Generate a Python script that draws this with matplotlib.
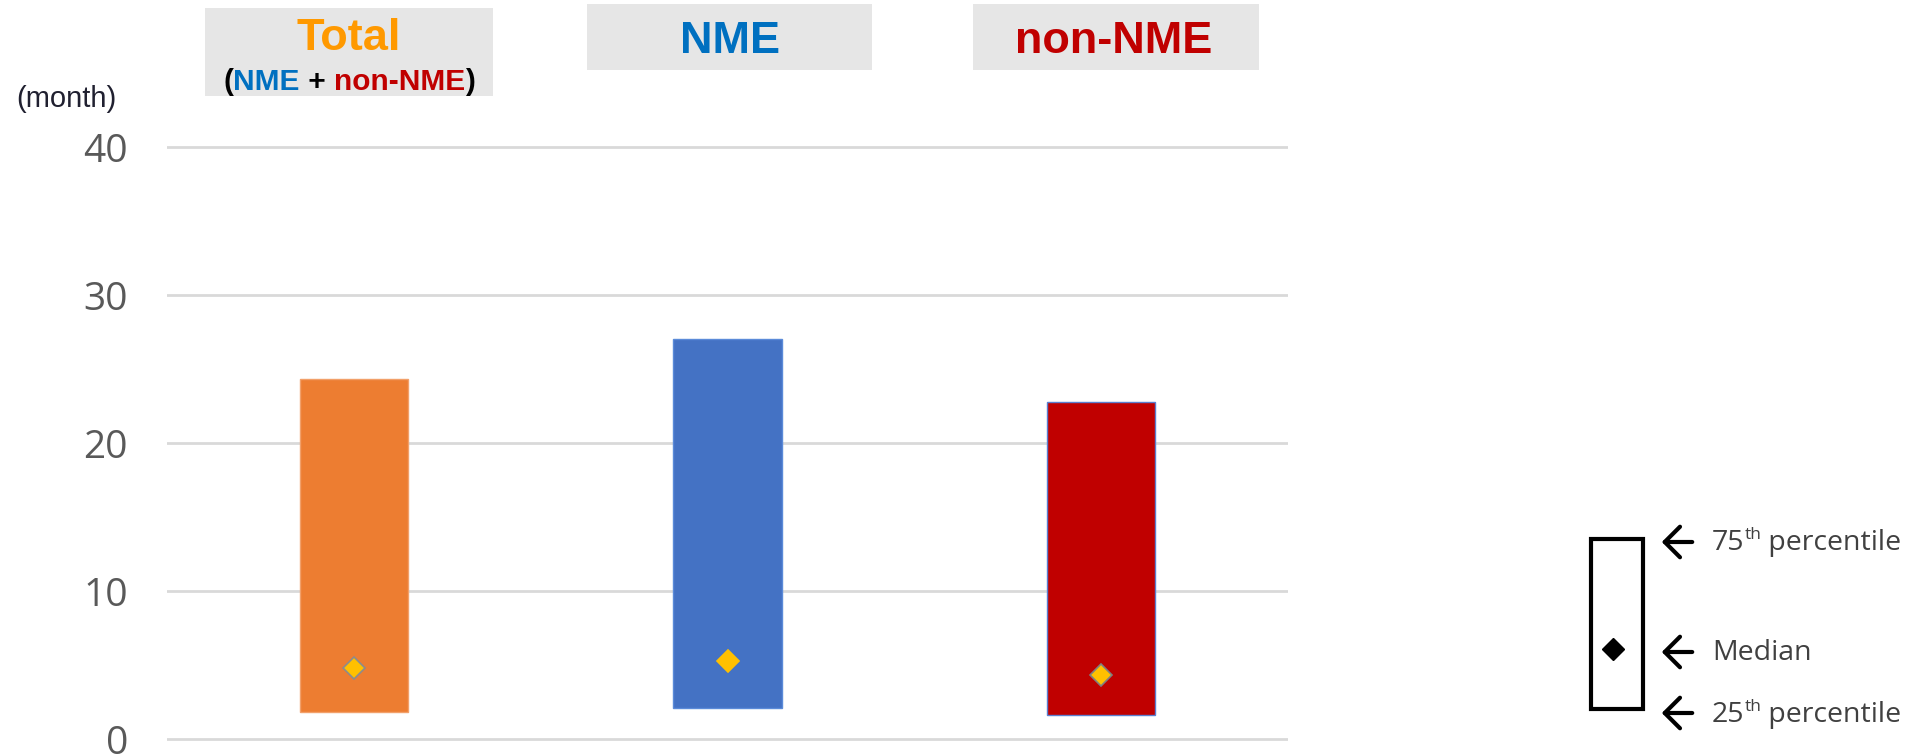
import matplotlib
matplotlib.use('Agg')
import matplotlib.pyplot as plt
from matplotlib.patches import Rectangle, FancyArrowPatch
from matplotlib.lines import Line2D

# ---- data ----
categories = ['Total', 'NME', 'non-NME']
p25 = [1.8, 2.1, 1.6]
p75 = [24.3, 27.0, 22.8]
median = [4.8, 5.3, 4.3]
yticks = [0, 10, 20, 30, 40]
ytick_labels = ['0', '10', '20', '30', '40']
unit_label = '(month)'
legend_labels = ['75', 'Median', '25']

W, H = 1911, 756
fig = plt.figure(figsize=(W / 100, H / 100), dpi=100)


def px(xp, yp):
    return (xp / W, 1 - yp / H)


# axes: value 0 at y=739 px, 40 at y=147 px ; ylim padded by 0.2
ppu = (739 - 147) / 40.0
pad = 0.2 * ppu
ax = fig.add_axes([167 / W, 1 - (739 + pad) / H, 1121 / W, (739 - 147 + 2 * pad) / H])
ax.set_xlim(-0.5, 2.5)
ax.set_ylim(-0.2, 40.2)

xs = list(range(len(categories)))
heights = [b - a for a, b in zip(p25, p75)]
bar_colors = ['#ED7D31', '#4472C4', '#C00000']
edge_colors = ['#F2A06A', '#5B8BD9', '#5B7FD0']
ax.bar(xs, heights, bottom=p25, width=0.29, color=bar_colors,
       edgecolor=edge_colors, linewidth=1.0, zorder=3)
med_edges = ['#8C8C8C', '#FFC000', '#7F7F7F']
for xi, m, ec in zip(xs, median, med_edges):
    ax.plot([xi], [m], marker='D', markersize=11.5, markerfacecolor='#FFC000',
            markeredgecolor=ec, markeredgewidth=1.2, linestyle='none', zorder=4)

ax.set_yticks(yticks)
ax.set_yticklabels(ytick_labels, fontfamily='Open Sans')
ax.set_xticks([])
ax.grid(axis='y', color='#D9D9D9', linewidth=2, zorder=0)
ax.set_axisbelow(True)
for s in ax.spines.values():
    s.set_visible(False)
ax.tick_params(axis='y', length=0, pad=28, labelsize=28, labelcolor='#595959')

renderer = fig.canvas.get_renderer()


def rich(xpos, ybase, pieces, ha='center', family='Liberation Sans'):
    """pieces: list of (text, color, size, weight, dy_px)"""
    texts = []
    for s, c, size, weight, dy in pieces:
        t = fig.text(0, 0, s, color=c, fontsize=size, fontweight=weight,
                     family=family, va='baseline', ha='left', zorder=6)
        texts.append(t)
    widths = [t.get_window_extent(renderer).width for t in texts]
    total = sum(widths)
    x0 = xpos - total / 2 if ha == 'center' else xpos
    for t, w, pc in zip(texts, widths, pieces):
        t.set_position(px(x0, ybase + pc[4]))
        x0 += w


# header boxes
boxes = [(205, 8, 493, 96), (587, 4, 872, 70), (973, 4, 1259, 70)]
for (x0, y0, x1, y1) in boxes:
    fig.patches.append(Rectangle(px(x0, y1), (x1 - x0) / W, (y1 - y0) / H,
                                 transform=fig.transFigure, facecolor='#E6E6E6',
                                 edgecolor='none', zorder=0))

ORANGE = '#FF9900'
BLUE = '#0070C0'
RED = '#C00000'
rich(349, 50, [(categories[0], ORANGE, 32.5, 'bold', 0)])
rich(349, 90, [('(', 'black', 21.5, 'bold', 0), (categories[1], BLUE, 21.5, 'bold', 0),
               (' + ', 'black', 21.5, 'bold', 0), (categories[2], RED, 21.5, 'bold', 0),
               (')', 'black', 21.5, 'bold', 0)])
rich(730, 53, [(categories[1], BLUE, 32.5, 'bold', 0)])
rich(1114, 53, [(categories[2], RED, 32.5, 'bold', 0)])

fig.text(*px(66, 99), unit_label, fontsize=21, family='Liberation Sans',
         color='#202030', ha='center', va='center')

# legend key box
fig.patches.append(Rectangle(px(1591, 709), (1643 - 1591) / W, (709 - 539) / H,
                             transform=fig.transFigure, facecolor='white',
                             edgecolor='black', linewidth=3, zorder=1))
fig.add_artist(Line2D([1613 / W], [1 - 649 / H], marker='D', markersize=11,
                      color='black', linestyle='none', transform=fig.transFigure,
                      zorder=10))
for yy in [542, 652, 713]:
    fig.add_artist(FancyArrowPatch(
        px(1695, yy), px(1659, yy), transform=fig.transFigure,
        arrowstyle='->,head_length=0.5,head_width=0.5', mutation_scale=22,
        linewidth=3, color='black', zorder=10))

LG = '#404040'
rich(1712, 550, [(legend_labels[0], LG, 20.5, 'normal', 0), ('th', LG, 12.5, 'normal', -11),
                 (' percentile', LG, 20.5, 'normal', 0)], ha='left', family='Open Sans')
rich(1712, 660, [(legend_labels[1], LG, 20.5, 'normal', 0)], ha='left', family='Open Sans')
rich(1712, 722, [(legend_labels[2], LG, 20.5, 'normal', 0), ('th', LG, 12.5, 'normal', -11),
                 (' percentile', LG, 20.5, 'normal', 0)], ha='left', family='Open Sans')

fig.savefig('out.png', dpi=100, facecolor='white')
